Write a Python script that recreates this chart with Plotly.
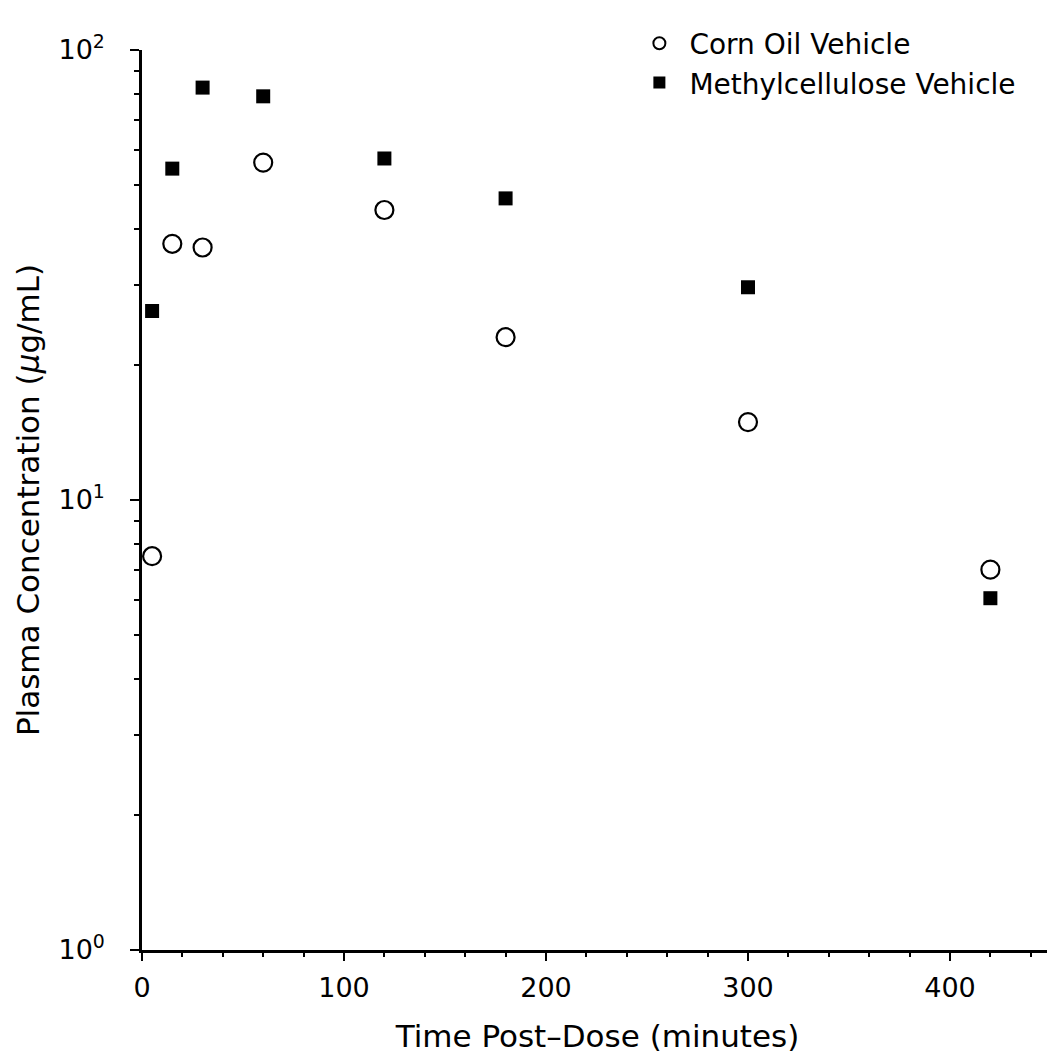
import plotly.graph_objects as go

# sampling times (minutes)
time_min = [5, 15, 30, 60, 120, 180, 300, 420]

# plasma concentration (ug/mL)
corn_oil = [7.5, 37.1, 36.4, 56.2, 44.1, 23.0, 14.9, 7.0]
methylcellulose = [26.3, 54.5, 82.5, 78.9, 57.4, 46.8, 29.7, 6.05]

y_major = [1, 10, 100]
y_major_text = ["10<sup>0</sup>", "10<sup>1</sup>", "10<sup>2</sup>"]
y_minor = [2, 3, 4, 5, 6, 7, 8, 9, 20, 30, 40, 50, 60, 70, 80, 90]
x_major = [0, 100, 200, 300, 400]

FONT = "DejaVu Sans"

fig = go.Figure()

fig.add_trace(go.Scatter(
    x=time_min, y=corn_oil, mode="markers", name="Corn Oil Vehicle",
    marker=dict(symbol="circle-open", size=18, color="black", line=dict(width=2.2, color="black")),
    cliponaxis=False,
))
fig.add_trace(go.Scatter(
    x=time_min, y=methylcellulose, mode="markers", name="Methylcellulose Vehicle",
    marker=dict(symbol="square", size=14, color="black"),
    cliponaxis=False,
))

# page body has an 8px margin, so the margins are shifted by 8px
fig.update_layout(
    width=1055, height=1057,
    margin=dict(l=134, r=10, t=31, b=115),
    plot_bgcolor="white", paper_bgcolor="white",
    font=dict(family=FONT, color="black", size=26),
    showlegend=True,
    legend=dict(
        x=0.535, y=1.035, xanchor="left", yanchor="top",
        bgcolor="rgba(0,0,0,0)", font=dict(size=28),
        itemsizing="constant", itemwidth=50, tracegroupgap=0,
    ),
    xaxis=dict(
        range=[0, 451], showline=True, linecolor="black", linewidth=2.5,
        showgrid=False, zeroline=False, mirror=False,
        ticks="outside", ticklen=8, tickwidth=2, tickcolor="black",
        tickmode="array", tickvals=x_major, tickfont=dict(size=27),
        ticklabelstandoff=4,
        minor=dict(dtick=20, ticks="outside", ticklen=4, tickwidth=2, tickcolor="black", showgrid=False),
        title=dict(text="Time Post\u2013Dose (minutes)", font=dict(size=31), standoff=24),
    ),
    yaxis=dict(
        type="log", range=[0, 2], showline=True, linecolor="black", linewidth=2.5,
        showgrid=False, zeroline=False, mirror=False,
        ticks="outside", ticklen=9, tickwidth=2, tickcolor="black",
        tickmode="array", tickvals=y_major, ticktext=y_major_text, tickfont=dict(size=27),
        ticklabelstandoff=20,
        minor=dict(tickmode="array", tickvals=y_minor, ticks="outside", ticklen=5,
                   tickwidth=2, tickcolor="black", showgrid=False),
        title=dict(text="Plasma Concentration (<i>\u03bc</i>g/mL)", font=dict(size=31), standoff=10),
    ),
)

fig.write_html("out.html")
